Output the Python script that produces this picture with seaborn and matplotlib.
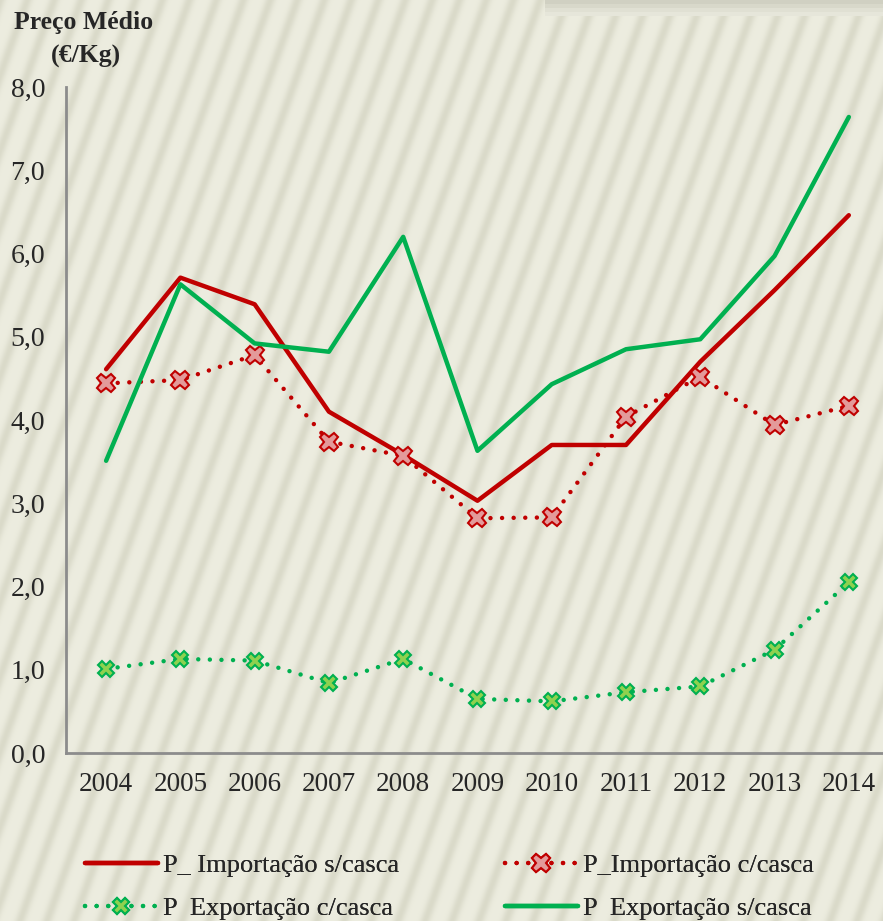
import numpy as np
import pandas as pd
import matplotlib
matplotlib.use("Agg")
import matplotlib.pyplot as plt
import seaborn as sns

# ---- data ----
years = [2004, 2005, 2006, 2007, 2008, 2009, 2010, 2011, 2012, 2013, 2014]
imp_s_casca = [4.61, 5.71, 5.39, 4.10, 3.58, 3.03, 3.70, 3.70, 4.70, 5.56, 6.46]
imp_c_casca = [4.44, 4.48, 4.78, 3.74, 3.57, 2.82, 2.83, 4.04, 4.52, 3.94, 4.17]
exp_c_casca = [1.01, 1.13, 1.11, 0.84, 1.13, 0.65, 0.62, 0.73, 0.80, 1.24, 2.05]
exp_s_casca = [3.51, 5.63, 4.92, 4.82, 6.20, 3.63, 4.43, 4.85, 4.97, 5.97, 7.64]
series_names = ["P_ Importação s/casca", "P_Importação c/casca",
                "P  Exportação c/casca", "P  Exportação s/casca"]
yticks = [0, 1, 2, 3, 4, 5, 6, 7, 8]
ytick_labels = ["0,0", "1,0", "2,0", "3,0", "4,0", "5,0", "6,0", "7,0", "8,0"]

sns.set_theme(style="white")
plt.rcParams["font.family"] = ["Liberation Serif", "DejaVu Serif"]

W, H = 883, 921
fig = plt.figure(figsize=(W / 100, H / 100), dpi=100)
fig.patch.set_facecolor("#EAEADC")

# background diagonal stripes (decoration)
bg = fig.add_axes([0, 0, 1, 1], zorder=-5)
xx, rr = np.meshgrid(np.arange(W), np.arange(H))
f = (xx + 0.36 * rr) / 27.0
v = 0.5 + 0.5 * np.cos(2 * np.pi * f)
v = v ** 2.5
base = np.array([0.927, 0.927, 0.875])
dark = np.array([0.855, 0.855, 0.79])
img = base[None, None, :] * (1 - v[..., None]) + dark[None, None, :] * v[..., None]
bg.imshow(img, aspect="auto", extent=[0, W, H, 0])
# top-right shade band
for i, c in enumerate(["#D0D0C2", "#D8D8CA", "#E0E0D3", "#E6E6DA"]):
    bg.add_patch(plt.Rectangle((545, i * 4), 338, 4, color=c, lw=0))
bg.set_xlim(0, W)
bg.set_ylim(H, 0)
bg.axis("off")

ax = fig.add_axes([66 / W, 1 - 753 / H, 1 - 66 / W, (753 - 87) / H])
ax.patch.set_alpha(0)

red = "#C00000"
green = "#00B050"
dot = (0, (0.01, 2.6))

sns.lineplot(x=years, y=imp_s_casca, ax=ax, color=red, lw=3.2,
             solid_capstyle="round", label=series_names[0])
sns.lineplot(x=years, y=imp_c_casca, ax=ax, color=red, lw=3.2,
             linestyle=dot, dash_capstyle="round", marker="X", markersize=13,
             markerfacecolor="#E39A9A", markeredgecolor=red, markeredgewidth=1.5,
             label=series_names[1])
sns.lineplot(x=years, y=exp_c_casca, ax=ax, color=green, lw=3.2,
             linestyle=dot, dash_capstyle="round", marker="X", markersize=12,
             markerfacecolor="#8FD14F", markeredgecolor=green, markeredgewidth=1.5,
             label=series_names[2])
sns.lineplot(x=years, y=exp_s_casca, ax=ax, color=green, lw=3.2,
             solid_capstyle="round", label=series_names[3])

ax.set_xlim(2003.46, 2014.46)
ax.set_ylim(0, 8)
ax.set_xticks(years)
ax.set_xticklabels([str(y) for y in years], fontsize=19.5)
ax.set_yticks(yticks)
ax.set_yticklabels(ytick_labels, fontsize=20)
ax.tick_params(axis="x", pad=14, length=0)
ax.tick_params(axis="y", pad=15, length=0)
for s in ["top", "right"]:
    ax.spines[s].set_visible(False)
for s in ["left", "bottom"]:
    ax.spines[s].set_color("#8C8C8C")
    ax.spines[s].set_linewidth(2)
ax.set_xlabel("")
ax.set_ylabel("")

fig.text(84 / W, 1 - 22 / H, "Preço Médio", ha="center", va="center",
         fontsize=18.5, fontweight="bold")
fig.text(86 / W, 1 - 56 / H, "(€/Kg)", ha="center", va="center",
         fontsize=18.5, fontweight="bold")

handles, labels = ax.get_legend_handles_labels()
ax.get_legend().remove()
# legend entries: (index, x of handle start, y centre)
entries = [(0, 85, 865), (1, 505, 865), (2, 85, 908), (3, 505, 908)]
for idx, lx, ly in entries:
    lg = fig.legend([handles[idx]], [labels[idx]], loc="center left",
                    bbox_to_anchor=(lx / W, 1 - ly / H), frameon=False,
                    fontsize=19, handlelength=2.75, handletextpad=0.2,
                    borderpad=0, borderaxespad=0)
    fig.add_artist(lg)

fig.savefig("out.png", dpi=100)
